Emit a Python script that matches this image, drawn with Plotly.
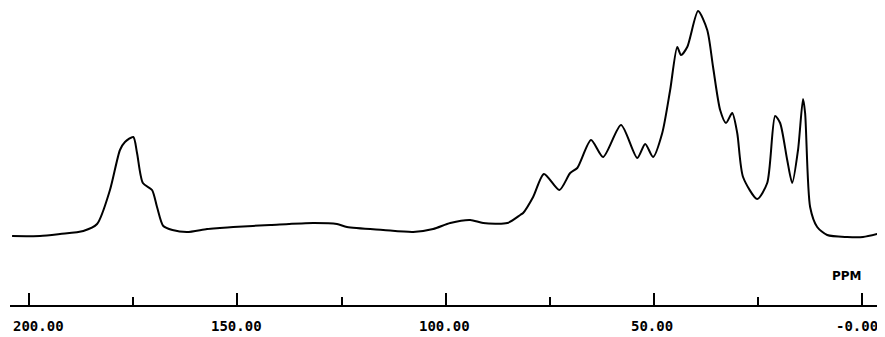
import plotly.graph_objects as go

# Chemical shift (ppm) and relative intensity
ppm = [204.1, 197.4, 192.6, 187.0, 183.7, 180.6, 178.2, 177.0, 175.0, 174.1,
       172.7, 170.5, 169.3, 167.8, 165.6, 162.1, 157.3, 154.2, 151.0, 142.1,
       131.8, 126.1, 123.7, 115.0, 107.8, 103.0, 98.9, 94.1, 91.0, 85.2,
       82.1, 81.4, 79.0, 76.4, 72.7, 70.1, 68.4, 65.1, 62.2, 57.9,
       54.0, 52.1, 50.2, 48.0, 46.1, 44.4, 43.5, 42.0, 39.4, 37.2,
       35.8, 34.1, 32.7, 31.2, 30.0, 28.6, 25.2, 22.8, 20.9, 19.7,
       18.0, 16.8, 15.4, 14.2, 13.7, 12.5, 10.8, 8.4, 3.6, -0.2, -3.6]
intensity = [4, 4, 6, 9, 16, 50, 90, 98, 103, 87,
             57, 50, 33, 14, 10, 8, 11, 12, 13, 15,
             17, 16, 13, 10, 8, 11, 17, 20, 17, 17,
             25, 27, 43, 66, 50, 67, 72, 100, 83, 115,
             82, 96, 83, 107, 150, 193, 185, 193, 229, 210,
             173, 130, 117, 127, 107, 63, 41, 57, 124, 117,
             80, 57, 90, 141, 127, 33, 13, 5, 3, 3, 6]

major_ticks = [200, 150, 100, 50, 0]
major_labels = ["200.00", "150.00", "100.00", "50.00", "-0.00"]
minor_ticks = [175, 125, 75, 25]
axis_title = "PPM"

fig = go.Figure()
fig.add_trace(go.Scatter(
    x=ppm, y=intensity, mode="lines",
    line=dict(color="black", width=2, shape="spline", smoothing=0.7),
    hoverinfo="skip", showlegend=False))

fig.update_xaxes(
    range=[204.6, -3.8], automargin=False,
    tickmode="array", tickvals=major_ticks, showticklabels=False,
    ticks="inside", ticklen=12, tickwidth=2, tickcolor="black",
    showline=True, linecolor="black", linewidth=2,
    showgrid=False, zeroline=False,
    minor=dict(tickvals=minor_ticks, ticks="inside", ticklen=8,
               tickwidth=2, tickcolor="black", showgrid=False),
)
fig.update_yaxes(range=[-65, 232], visible=False, showgrid=False, zeroline=False,
                 automargin=False)

# tick labels, placed under their ticks (edge labels nudged inwards as in the original)
label_shift = {200: 9, 150: -1, 100: -1, 50: -2, 0: -5}
for v, t in zip(major_ticks, major_labels):
    fig.add_annotation(x=v, y=0, xref="x", yref="paper", yanchor="middle",
                       text="<b>" + t + "</b>", showarrow=False,
                       xshift=label_shift[v], yshift=-21,
                       font=dict(family="DejaVu Sans Mono", size=14, color="black"))

fig.add_annotation(x=3.6, y=240 - 276, xref="x", yref="y", text="<b>" + axis_title + "</b>",
                   showarrow=False, font=dict(family="DejaVu Sans", size=12, color="black"))

# page body adds an 8px margin, so the figure is sized to fit the remaining window
fig.update_layout(
    width=877, height=329,
    margin=dict(l=2, r=7, t=0, b=32),
    plot_bgcolor="white", paper_bgcolor="white",
)

fig.write_html("out.html")
